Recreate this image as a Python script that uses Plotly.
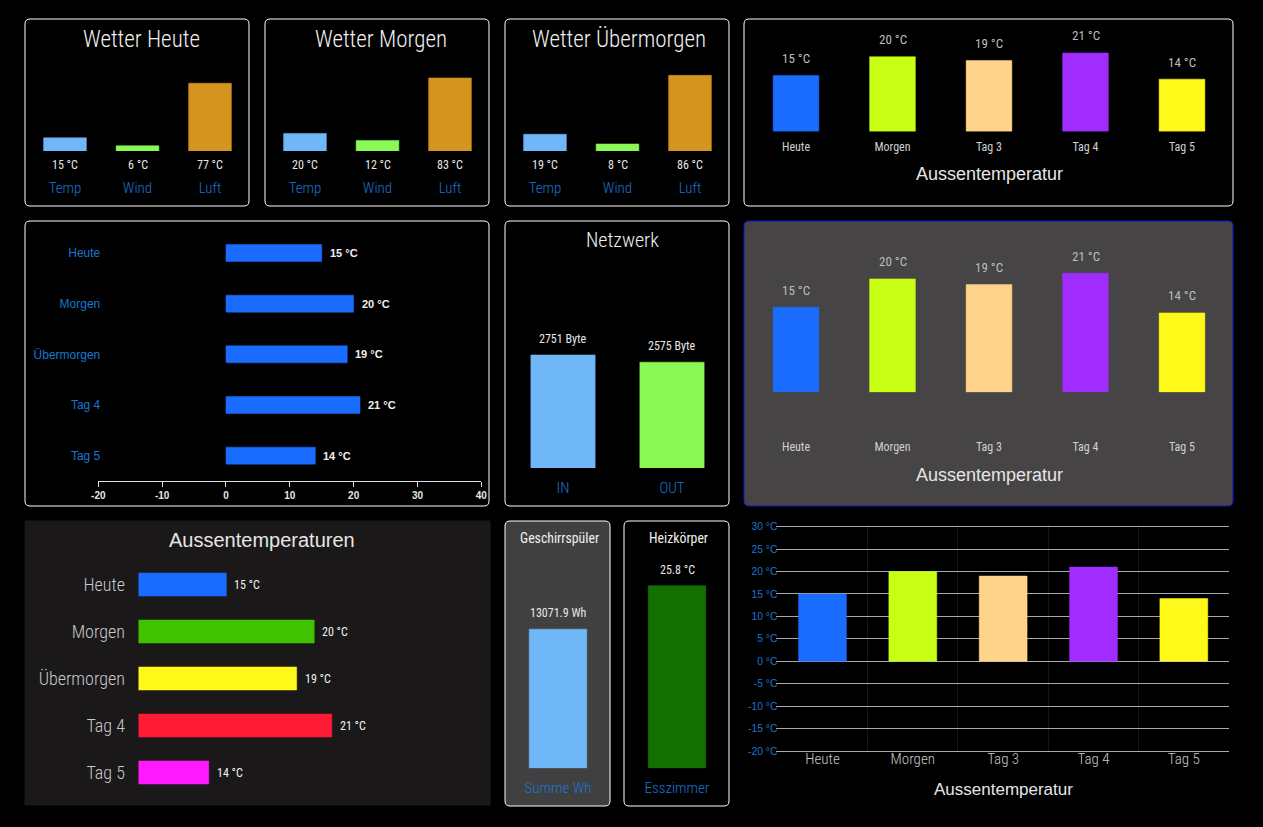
import plotly.graph_objects as go

W, H = 1263, 827

NARROW = "Roboto Condensed, Roboto, sans-serif"
ARIAL = "Liberation Sans, Arial, sans-serif"
BLUE_TXT = "#1976d2"

# values
wetter_cats = ["Temp", "Wind", "Luft"]
wetter_heute = [15, 6, 77]
wetter_morgen = [20, 12, 83]
wetter_uebermorgen = [19, 8, 86]
wetter_colors = ["#70b7f8", "#8af955", "#d49520"]

tage = ["Heute", "Morgen", "Tag 3", "Tag 4", "Tag 5"]
tage_lang = ["Heute", "Morgen", "Übermorgen", "Tag 4", "Tag 5"]
temperaturen = [15, 20, 19, 21, 14]
tage_colors = ["#1a6cff", "#c8ff14", "#ffd48a", "#a02cff", "#fff91a"]
rang_colors = ["#1a6cff", "#3fc200", "#fff91a", "#ff1a35", "#ff19ff"]

netz_cats = ["IN", "OUT"]
netz_werte = [2751, 2575]
netz_colors = ["#70b7f8", "#8af955"]

spueler_cats = ["Summe Wh"]
spueler_werte = [13071.9]
heizung_cats = ["Esszimmer"]
heizung_werte = [25.8]

h_ticks = [-20, -10, 0, 10, 20, 30, 40]
h_ticktext = ["-20", "-10", "0", "10", "20", "30", "40"]
temp_ticks = [-20, -15, -10, -5, 0, 5, 10, 15, 20, 25, 30]
temp_ticktext = ["-20 °C", "-15 °C", "-10 °C", "-5 °C", "0 °C", "5 °C", "10 °C", "15 °C", "20 °C", "25 °C", "30 °C"]

fig = go.Figure()
n_axes = 0


def px_x(x):
    return x / W


def px_y(y):
    return 1 - y / H


def edge(colors):
    # bar outline, same colour at half alpha
    out = []
    for c in colors:
        out.append(f"rgba({int(c[1:3], 16)},{int(c[3:5], 16)},{int(c[5:7], 16)},0.5)")
    return out


def panel(x0, y0, x1, y1, fill="#000000", border="#ffffff", r=5):
    path = (f"M {px_x(x0 + r)} {px_y(y0)} L {px_x(x1 - r)} {px_y(y0)} "
            f"Q {px_x(x1)} {px_y(y0)} {px_x(x1)} {px_y(y0 + r)} "
            f"L {px_x(x1)} {px_y(y1 - r)} Q {px_x(x1)} {px_y(y1)} {px_x(x1 - r)} {px_y(y1)} "
            f"L {px_x(x0 + r)} {px_y(y1)} Q {px_x(x0)} {px_y(y1)} {px_x(x0)} {px_y(y1 - r)} "
            f"L {px_x(x0)} {px_y(y0 + r)} Q {px_x(x0)} {px_y(y0)} {px_x(x0 + r)} {px_y(y0)} Z")
    fig.add_shape(type="path", path=path, xref="paper", yref="paper", fillcolor=fill,
                  line=dict(color=border, width=1), layer="below")


def text(x, y, s, size, color="#f0f0f0", family=NARROW, weight=300):
    fig.add_annotation(x=px_x(x), y=px_y(y), xref="paper", yref="paper", text=s, showarrow=False,
                       xanchor="center", yanchor="middle", font=dict(size=size, color=color, family=family, weight=weight))


def vbars(cats, vals, colors, box, yrange, gap, tick_drop, tick_font, unit=None, label_shift=0, label_size=12, label_color="#e6e6e6"):
    # box = left, top, right, bottom in pixels
    global n_axes
    n_axes += 1
    i = n_axes
    fig.add_trace(go.Bar(x=cats, y=vals, width=1 - gap, marker=dict(color=colors, line=dict(color=edge(colors), width=1)),
                         xaxis=f"x{i}", yaxis=f"y{i}", showlegend=False))
    fig.layout[f"xaxis{i}"] = dict(domain=[px_x(box[0]), px_x(box[2])], anchor=f"y{i}", type="category",
                                   range=[-0.5, len(cats) - 0.5], showgrid=False, zeroline=False, showline=False,
                                   ticks="outside", ticklen=tick_drop, tickcolor="rgba(0,0,0,0)", tickfont=tick_font)
    fig.layout[f"yaxis{i}"] = dict(domain=[px_y(box[3]), px_y(box[1])], anchor=f"x{i}", range=yrange,
                                   showgrid=False, zeroline=False, showline=False, showticklabels=False)
    if unit:
        for c, v in zip(cats, vals):
            fig.add_annotation(x=c, y=v if label_shift > 0 else 0, xref=f"x{i}", yref=f"y{i}", text=f"{v} {unit}",
                               showarrow=False, yshift=label_shift, yanchor="middle",
                               font=dict(size=label_size, color=label_color, family=NARROW))
    return i


def hbars(cats, vals, colors, box, xrange, gap, tick_font, label_size, label_color, label_family, label_shift, standoff=0, show_x=False, weight="normal"):
    global n_axes
    n_axes += 1
    i = n_axes
    fig.add_trace(go.Bar(x=vals, y=cats, orientation="h", width=1 - gap,
                         marker=dict(color=colors, line=dict(color=edge(colors), width=1)),
                         xaxis=f"x{i}", yaxis=f"y{i}", showlegend=False))
    xaxis = dict(domain=[px_x(box[0]), px_x(box[2])], anchor=f"y{i}", range=xrange, showgrid=False, zeroline=False)
    if show_x:
        xaxis.update(showline=True, linecolor="#e0e0e0", linewidth=1, ticks="outside", ticklen=5, tickcolor="#e0e0e0",
                     tickvals=h_ticks, ticktext=h_ticktext, tickfont=dict(size=10, color="#e6e6e6", family=ARIAL, weight="bold"))
    else:
        xaxis.update(showline=False, showticklabels=False)
    fig.layout[f"xaxis{i}"] = xaxis
    fig.layout[f"yaxis{i}"] = dict(domain=[px_y(box[3]), px_y(box[1])], anchor=f"x{i}", type="category",
                                   range=[len(cats) - 0.5, -0.5], showgrid=False, zeroline=False, showline=False,
                                   ticks="outside" if standoff > 0 else "", ticklen=standoff, tickcolor="rgba(0,0,0,0)",
                                   ticklabelstandoff=0 if standoff > 0 else -3, tickfont=tick_font)
    for c, v in zip(cats, vals):
        fig.add_annotation(x=v, y=c, xref=f"x{i}", yref=f"y{i}", text=f"{v} °C", showarrow=False, xanchor="left",
                           xshift=label_shift, font=dict(size=label_size, color=label_color, family=label_family, weight=weight))


# panels
panel(25, 19, 249, 206)
panel(265, 19, 489, 206)
panel(505, 19, 729, 206)
panel(744, 19, 1233, 206)
panel(25, 221, 489, 506)
panel(505, 221, 729, 506)
panel(744, 221, 1233, 506, fill="#464444", border="#0a14e0")
panel(25, 521, 490, 805, fill="#1a1819", border="#1a1819", r=0)
panel(505, 521, 610, 806, fill="#404040")
panel(624, 521, 729, 806)

# wetter tiles
blue_label = dict(size=15, color=BLUE_TXT, family=NARROW, weight=300)
for off, vals, title in [(0, wetter_heute, "Wetter Heute"), (240, wetter_morgen, "Wetter Morgen"), (480, wetter_uebermorgen, "Wetter Übermorgen")]:
    vbars(wetter_cats, vals, wetter_colors, (28.75 + off, 63, 246.25 + off, 151), [0, 100], 0.41, 23, blue_label,
          unit="°C", label_shift=-14)
    text(141 + off if off < 480 else 619, 39, title, 23)

# top right
label_grey = dict(size=12, color="#d0d0d0", family=NARROW)
vbars(tage, temperaturen, tage_colors, (747.75, 40, 1230.25, 131.5), [0, 91.5 / 3.74], 0.526, 4, label_grey,
      unit="°C", label_shift=17, label_size=13, label_color="#bdbdbd")
text(989, 174, "Aussentemperatur", 18, "#e6e6e6", ARIAL, weight="normal")

# netzwerk
vbars(netz_cats, netz_werte, netz_colors, (508.5, 300, 726.5, 468), [0, 168 / 0.0411], 0.41, 6, blue_label,
      unit="Byte", label_shift=16, label_size=12)
text(622.5, 240, "Netzwerk", 20)

# grey big one
vbars(tage, temperaturen, tage_colors, (747.75, 250, 1230.25, 392.3), [0, 142.3 / 5.67], 0.526, 43, label_grey,
      unit="°C", label_shift=17, label_size=13, label_color="#bdbdbd")
text(989, 475, "Aussentemperatur", 18, "#e6e6e6", ARIAL, weight="normal")

# vertical single bars
vbars(spueler_cats, spueler_werte, ["#70b7f8"], (510, 598, 606, 768.3), [0, 16000], 0.4, 6, blue_label,
      unit="Wh", label_shift=16, label_size=12)
text(559, 538, "Geschirrspüler", 13.8, weight="normal")
vbars(heizung_cats, heizung_werte, ["#147000"], (628, 555.9, 726, 768.3), [0, 30], 0.412, 6, blue_label,
      unit="°C", label_shift=16, label_size=12)
text(678, 538, "Heizkörper", 13.8, weight="normal")

# horizontal
hbars(tage_lang, temperaturen, ["#1a6cff"] * 5, (98.3, 227.7, 481.3, 481), [-20, 40], 0.664,
      dict(size=12, color=BLUE_TXT, family=ARIAL), 11, "#f0f0f0", ARIAL, 6, show_x=True, weight="bold")
hbars(tage_lang, temperaturen, rang_colors, (138.5, 561, 490, 796), [10, 30], 0.51,
      dict(size=18, color="#c8c8c8", family=NARROW, weight=300), 12, "#f0f0f0", NARROW, 6, standoff=9, weight=400)
text(262, 540, "Aussentemperaturen", 20, "#e6e6e6", ARIAL, weight="normal")

# bottom right with grid, ranges run a bit past the ends so the outer grid lines stay
n_axes += 1
i = n_axes
fig.add_trace(go.Bar(x=tage, y=temperaturen, width=1 - 0.47, showlegend=False,
                     marker=dict(color=tage_colors, line=dict(color=edge(tage_colors), width=1)),
                     xaxis=f"x{i}", yaxis=f"y{i}"))
fig.layout[f"xaxis{i}"] = dict(domain=[px_x(776.4), px_x(1229)], anchor=f"y{i}", type="category", range=[-0.51, 4.5],
                               tickson="boundaries", showgrid=True, gridcolor="#161616", gridwidth=1, zeroline=False,
                               showline=False, ticks="", ticklabelstandoff=-5, tickfont=dict(size=15, color="#c8c8c8", family=NARROW, weight=300))
fig.layout[f"yaxis{i}"] = dict(domain=[px_y(752.8), px_y(524.9)], anchor=f"x{i}", range=[-20.4, 30.4],
                               tickvals=temp_ticks, ticktext=temp_ticktext, ticklabelstandoff=-2,
                               showgrid=True, gridcolor="#a8a8a8", gridwidth=1, zeroline=False, showline=False, ticks="",
                               tickfont=dict(size=10.3, color=BLUE_TXT, family=ARIAL))
text(1003, 789.5, "Aussentemperatur", 17, "#e6e6e6", ARIAL, weight="normal")

fig.update_xaxes(automargin=False)
fig.update_yaxes(automargin=False)
fig.update_layout(width=W, height=H, autosize=False, margin=dict(l=0, r=0, t=0, b=0, pad=0), paper_bgcolor="#000000",
                  plot_bgcolor="rgba(0,0,0,0)", barmode="overlay")

fig.write_html("out.html", config={"displayModeBar": False},
               post_script="document.body.style.margin='0';document.body.style.background='#000';"
                           "var s=document.createElement('style');s.textContent='.js-plotly-plot text{font-stretch:75%}';document.head.appendChild(s);")
